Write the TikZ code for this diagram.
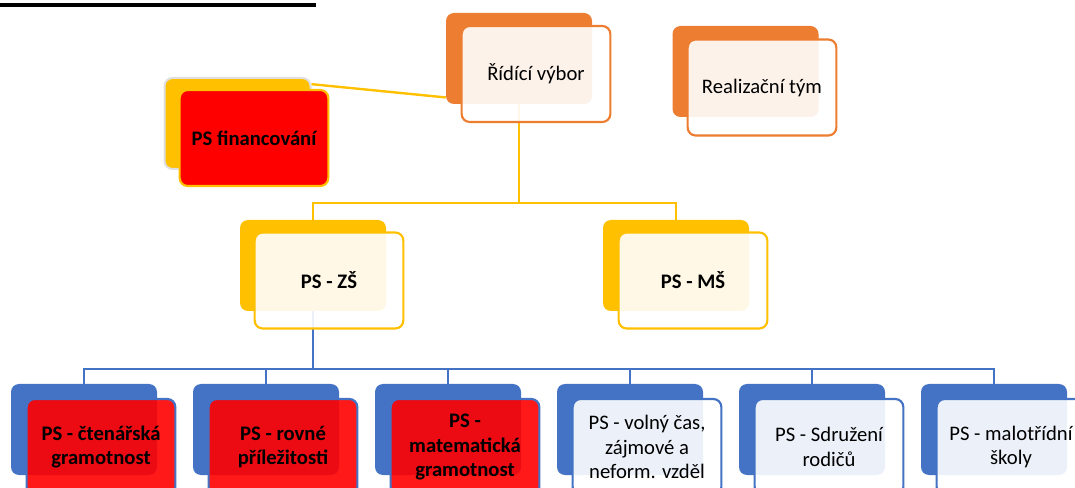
\documentclass[tikz,border=0pt]{standalone}
\usepackage{fontspec}
\setmainfont{Carlito}
\usetikzlibrary{backgrounds}
\definecolor{oran}{HTML}{ED7D31}
\definecolor{yell}{HTML}{FFC000}
\definecolor{blu}{HTML}{4472C4}
\begin{document}
\begin{tikzpicture}[x=0.75pt, y=-0.75pt,
        back/.style = {rounded corners=6pt, minimum width=109.5pt, minimum height=68.25pt, inner sep=0pt},
        front/.style = {rounded corners=6pt, minimum width=111.5pt, minimum height=72pt, inner sep=2pt, line width=1.6pt, align=center, font=\fontsize{15.5}{18.5}\selectfont},
        light/.style = {front, fill=white, fill opacity=0.9, text opacity=1},
        redbox/.style = {front, fill=red, fill opacity=0.9, text opacity=1, font=\fontsize{15.5}{18.5}\selectfont\bfseries},
        link/.style = {line width=2.2pt}]
        \clip (0, 0) rectangle (1075, 488);

        \draw[line width=3pt] (0, 5) -- (316, 5);

        \draw (519, 58.5) node[back, fill=oran] (RVb) {};
        \draw (536, 74) node[light, draw=oran] (RVf) {Řídící výbor};
        \draw (745.5, 71.5) node[back, fill=oran] (RTb) {};
        \draw (762, 87.5) node[light, draw=oran] (RTf) {Realizační tým};
        \draw (237.5, 123.5) node[back, fill=yell, draw=gray!25, line width=1.5pt] (PFb) {};
        \draw (254, 138) node[front, fill=red, draw=yell, font=\fontsize{15.5}{18.5}\selectfont\bfseries] (PFf) {PS financování};

        \draw (313, 265.5) node[back, fill=yell] (ZSb) {};
        \draw (329, 280.5) node[light, draw=yell, font=\fontsize{15.5}{18.5}\selectfont\bfseries] (ZSf) {PS - ZŠ};
        \draw (676, 265.5) node[back, fill=yell] (MSb) {};
        \draw (693, 280.5) node[light, draw=yell, font=\fontsize{15.5}{18.5}\selectfont\bfseries] (MSf) {PS - MŠ};

        \draw (84, 429.5) node[back, fill=blu] (Ab) {};
        \draw (101, 447) node[redbox, draw=blu] (Af) {PS - čtenářská\\gramotnost};
        \draw (266, 429.5) node[back, fill=blu] (Bb) {};
        \draw (283, 447) node[redbox, draw=blu] (Bf) {PS - rovné\\příležitosti};
        \draw (448, 429.5) node[back, fill=blu] (Cb) {};
        \draw (465, 447) node[redbox, draw=blu] (Cf) {PS -\\matematická\\gramotnost};
        \draw (630, 429.5) node[back, fill=blu] (Db) {};
        \draw (647, 447) node[light, draw=blu] (Df) {PS - volný čas,\\zájmové a\\neform. vzděl};
        \draw (812, 429.5) node[back, fill=blu] (Eb) {};
        \draw (829, 447) node[light, draw=blu] (Ef) {PS - Sdružení\\rodičů};
        \draw (994, 429.5) node[back, fill=blu] (Fb) {};
        \draw (1011, 447) node[light, draw=blu] (Ff) {PS - malotřídní\\školy};

        \coordinate (ybus) at (518.5, 203);
        \coordinate (bbus) at (313, 369);

        \begin{pgfonlayer}{background}
        \draw[link, yell, line width=1.8pt] (PFb.28) -- (RVb.208);
        \draw[link, yell] (RVb.south) -- (RVb.south |- ybus);
        \draw[link, yell] (ZSb.north) |- (ybus) -| (MSb.north);
        \draw[link, blu] (ZSb.south) -- (ZSb.south |- bbus);
        \draw[link, blu] (Ab.north) |- (bbus) -| (Fb.north);
        \draw[link, blu] (Bb.north) -- (Bb.north |- bbus);
        \draw[link, blu] (Cb.north) -- (Cb.north |- bbus);
        \draw[link, blu] (Db.north) -- (Db.north |- bbus);
        \draw[link, blu] (Eb.north) -- (Eb.north |- bbus);
        \end{pgfonlayer}

\end{tikzpicture}
\end{document}
